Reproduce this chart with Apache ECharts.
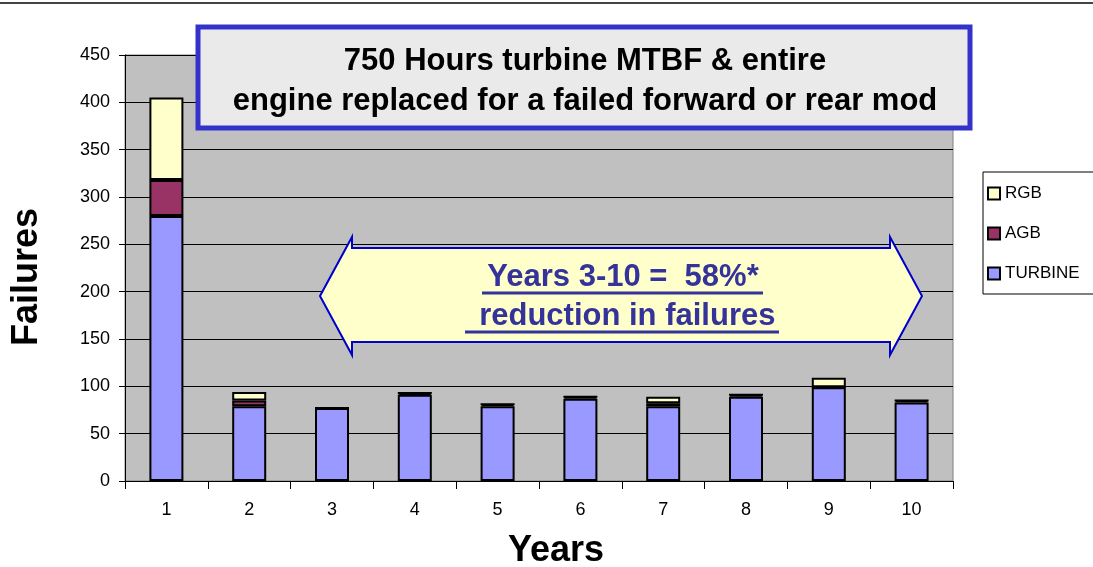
<!DOCTYPE html>
<html>
<head>
<meta charset="utf-8">
<script src="https://cdn.jsdelivr.net/npm/echarts@6/dist/echarts.min.js"></script>
<style>
  html, body { margin: 0; padding: 0; background: #fff; }
  #chart { width: 1093px; height: 567px; }
</style>
</head>
<body>
<div id="chart"></div>
<script>
const years = ["1", "2", "3", "4", "5", "6", "7", "8", "9", "10"];
const turbine = [280, 79, 77, 91, 79, 87, 79, 89, 99, 83];
const agb = [38, 6, 0, 2, 2, 2, 3, 2, 0, 2];
const rgb = [87, 9, 0, 0, 0, 0, 7, 0, 10, 0];

const titleLines = ["750 Hours turbine MTBF & entire", "engine replaced for a failed forward or rear mod"];
const noteLines = ["Years 3-10 =  58%*", " reduction in failures"];

const font = "Liberation Sans, Arial, sans-serif";
const chart = echarts.init(document.getElementById("chart"));

const barStyle = (color) => ({ color: color, borderColor: "#000", borderWidth: 2 });

chart.setOption({
  animation: false,
  textStyle: { fontFamily: font },
  grid: {
    left: 125, right: 140, top: 55, bottom: 86,
    outerBoundsMode: "none", containLabel: false,
    show: true, backgroundColor: "#C0C0C0", borderColor: "#808080", borderWidth: 1,
  },
  legend: {
    orient: "vertical",
    left: 983,
    top: 172,
    data: ["RGB", "AGB", "TURBINE"],
    backgroundColor: "#fff",
    borderColor: "#000",
    borderWidth: 1,
    padding: [13, 30, 12, 4],
    itemWidth: 12,
    itemHeight: 12,
    itemGap: 23,
    icon: "rect",
    textStyle: { fontSize: 17, color: "#000", fontFamily: font },
  },
  xAxis: {
    type: "category",
    data: years,
    name: "Years",
    nameLocation: "middle",
    nameGap: 52,
    nameTextStyle: { fontSize: 36, fontWeight: "bold", color: "#000", padding: [0, 0, 0, 34] },
    axisLine: { lineStyle: { color: "#000", width: 1 } },
    axisTick: { show: true, length: 8, lineStyle: { color: "#000" } },
    axisLabel: { margin: 20, fontSize: 18, color: "#000" },
  },
  yAxis: {
    type: "value",
    min: 0,
    max: 450,
    interval: 50,
    name: "Failures",
    nameLocation: "middle",
    nameGap: 80,
    nameTextStyle: { fontSize: 36, fontWeight: "bold", color: "#000", padding: [0, 18, 0, 0] },
    axisLine: { show: true, lineStyle: { color: "#000" } },
    axisTick: { show: true, length: 6, lineStyle: { color: "#000" } },
    axisLabel: { margin: 15, fontSize: 18, color: "#000" },
    splitLine: { lineStyle: { color: "#000", width: 1 } },
  },
  series: [
    { name: "TURBINE", type: "bar", stack: "f", barWidth: 34, data: turbine, itemStyle: barStyle("#9999FF") },
    { name: "AGB", type: "bar", stack: "f", data: agb, itemStyle: barStyle("#993366") },
    { name: "RGB", type: "bar", stack: "f", data: rgb, itemStyle: barStyle("#FFFFCC") },
  ],
  graphic: [
    { type: "line", shape: { x1: 0, y1: 3, x2: 1093, y2: 3 }, style: { stroke: "#444", lineWidth: 2 } },
    {
      type: "rect", z: 100,
      shape: { x: 198, y: 27, width: 772, height: 101 },
      style: { fill: "#EAEAEA", stroke: "#3333CC", lineWidth: 5 },
    },
    {
      type: "text", z: 101, x: 585, y: 61,
      style: { text: titleLines[0], align: "center", verticalAlign: "middle", font: "bold 31px " + font, fill: "#000" },
    },
    {
      type: "text", z: 101, x: 585, y: 101,
      style: { text: titleLines[1], align: "center", verticalAlign: "middle", font: "bold 31px " + font, fill: "#000" },
    },
    {
      type: "polygon", z: 100,
      shape: { points: [[320, 296], [352, 237], [352, 248], [890, 248], [890, 237], [922, 296], [890, 355], [890, 342], [352, 342], [352, 355]] },
      style: { fill: "#FFFFCC", stroke: "#0000CC", lineWidth: 2 },
    },
    {
      type: "text", z: 101, x: 623, y: 277,
      style: { text: noteLines[0], align: "center", verticalAlign: "middle", font: "bold 31px " + font, fill: "#333399" },
    },
    {
      type: "text", z: 101, x: 623, y: 316,
      style: { text: noteLines[1], align: "center", verticalAlign: "middle", font: "bold 31px " + font, fill: "#333399" },
    },
    { type: "line", z: 101, shape: { x1: 482, y1: 293, x2: 763, y2: 293 }, style: { stroke: "#333399", lineWidth: 3 } },
    { type: "line", z: 101, shape: { x1: 465, y1: 332, x2: 779, y2: 332 }, style: { stroke: "#333399", lineWidth: 3 } },
  ],
});
</script>
</body>
</html>
